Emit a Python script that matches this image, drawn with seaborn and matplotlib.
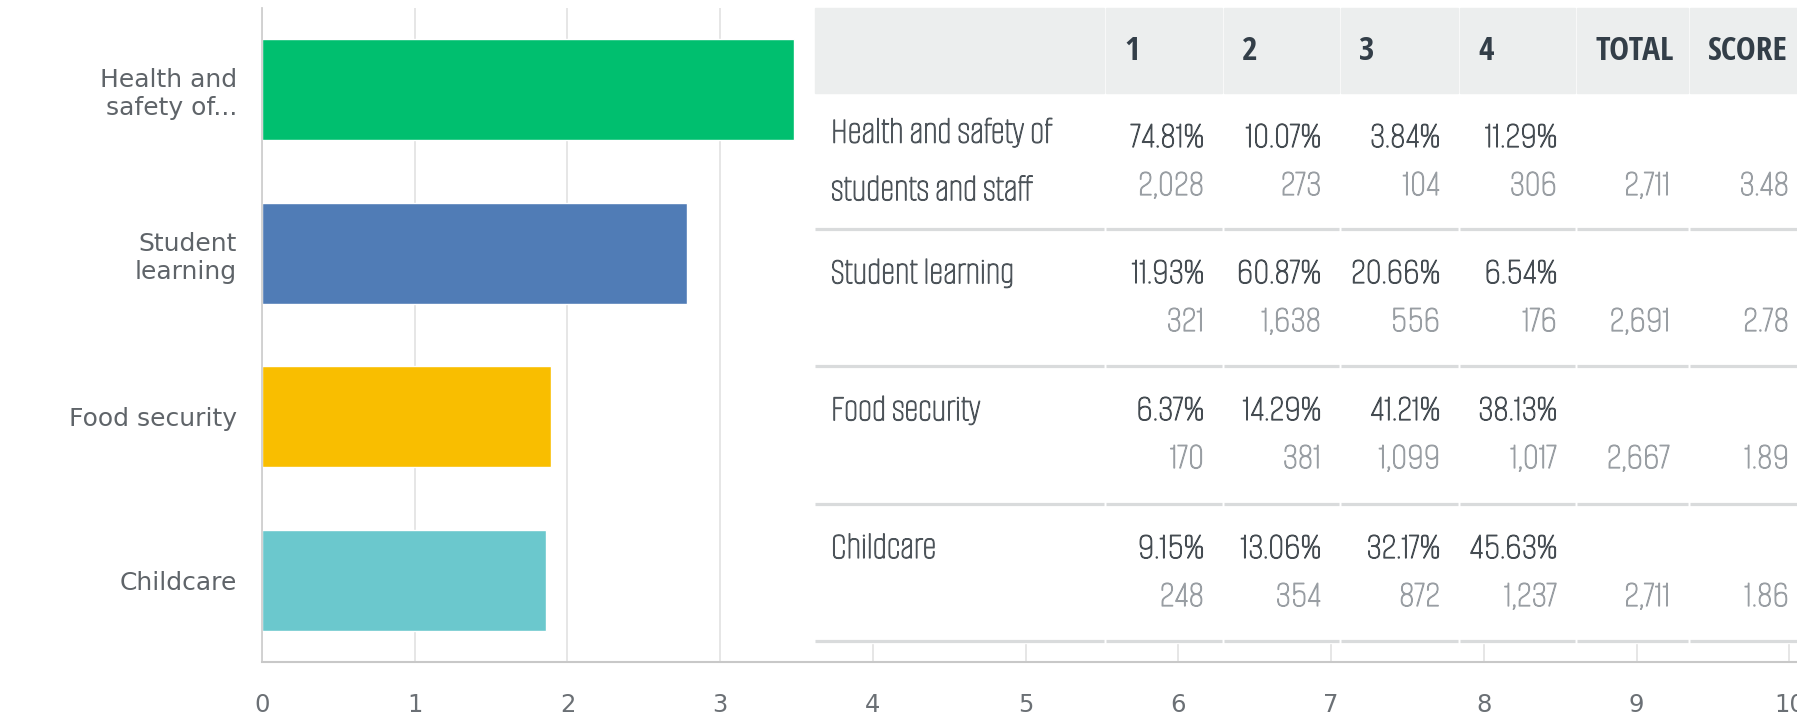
import matplotlib
matplotlib.use("Agg")
import matplotlib.pyplot as plt
import matplotlib.patheffects as pe
from matplotlib import font_manager
from matplotlib.font_manager import FontProperties
from matplotlib.textpath import TextPath
from matplotlib.patches import Rectangle
import seaborn as sns
import pandas as pd

# values
axis_labels = ["Health and\nsafety of...", "Student\nlearning", "Food security", "Childcare"]
table_labels = ["Health and safety of\nstudents and staff", "Student learning", "Food security", "Childcare"]
scores = [3.48, 2.78, 1.89, 1.86]
totals = [2711, 2691, 2667, 2711]
header_cols = ["1", "2", "3", "4", "TOTAL", "SCORE"]
pct_1 = [74.81, 11.93, 6.37, 9.15]
pct_2 = [10.07, 60.87, 14.29, 13.06]
pct_3 = [3.84, 20.66, 41.21, 32.17]
pct_4 = [11.29, 6.54, 38.13, 45.63]
cnt_1 = [2028, 321, 170, 248]
cnt_2 = [273, 1638, 381, 354]
cnt_3 = [104, 556, 1099, 872]
cnt_4 = [306, 176, 1017, 1237]
x_ticks = list(range(0, 11))
bar_colors = ["#00bf6f", "#507cb6", "#f9be00", "#6bc8cd"]

PX_PER_PT = 100 / 72


def _weight(f):
    w = f.weight
    if isinstance(w, str):
        return font_manager.weight_dict.get(w.lower(), 400)
    return int(w)


def _extent(fname, text):
    ext = TextPath((0, 0), text, prop=FontProperties(fname=fname, size=100)).get_extents()
    return ext.width, ext.height


def pick_table_font(sample, target_w, target_cap, bold):
    # the reference table uses a narrow face: pick the installed sans whose
    # width / cap-height ratio is closest, then size it to the sample width
    want = target_w / target_cap
    best, best_diff = None, None
    for f in font_manager.fontManager.ttflist:
        name = f.name.lower()
        if f.style != "normal" or "mono" in name or "cjk" in name:
            continue
        if not any(k in name for k in ["sans", "roboto", "lato", "inter"]):
            continue
        if "serif" in name.replace("sans", ""):
            continue
        w = _weight(f)
        if bold and w < 600:
            continue
        if not bold and not (350 <= w <= 500):
            continue
        try:
            tw, _ = _extent(f.fname, sample)
            _, cap = _extent(f.fname, "H")
        except Exception:
            continue
        if cap <= 0:
            continue
        diff = abs(tw / cap - want)
        if best_diff is None or diff < best_diff:
            best, best_diff = (f.fname, tw), diff
    if best is None:
        return None, 17
    fname, tw = best
    size = target_w / (tw / 100 * PX_PER_PT)
    return fname, size


def main():
    sns.set_style("white")
    plt.rcParams["font.family"] = ["DejaVu Sans"]

    reg_file, body_size = pick_table_font("Health and safety of", 218, 23, False)
    bold_file, head_size = pick_table_font("TOTAL", 77, 27, True)

    def tfont(size, bold=False):
        fname = bold_file if bold else reg_file
        if fname:
            fp = FontProperties(fname=fname)
        else:
            fp = FontProperties(family="Liberation Sans", weight="bold" if bold else "normal")
        fp.set_size(size)
        return fp

    def body_text(x, y, s, color, ha, **kw):
        # a thin outline in the text colour gives the narrow face a bit more weight
        return tx.text(x, y, s, fontproperties=tfont(body_size), color=color, ha=ha,
                       va="center", zorder=3,
                       path_effects=[pe.withStroke(linewidth=0.9, foreground=color)], **kw)

    W, H = 1797, 719
    fig = plt.figure(figsize=(W / 100, H / 100), dpi=100)
    ax = fig.add_axes([262 / W, 1 - 662 / H, (W - 262) / W, (662 - 8) / H])

    df = pd.DataFrame({"label": axis_labels, "score": scores})
    sns.barplot(data=df, x="score", y="label", hue="label", palette=bar_colors,
                width=0.62, saturation=1, legend=False, orient="h", ax=ax)

    ax.set_xlim(0, 10.05)
    ax.set_xticks(x_ticks)
    ax.set_xlabel("")
    ax.set_ylabel("")
    ax.set_axisbelow(True)
    ax.xaxis.grid(True, color="#e4e4e4", lw=1.3)
    ax.yaxis.grid(False)
    for s in ["top", "right"]:
        ax.spines[s].set_visible(False)
    ax.spines["left"].set_color("#cfcfcf")
    ax.spines["left"].set_linewidth(1.3)
    ax.spines["bottom"].set_color("#c8c8c8")
    ax.spines["bottom"].set_linewidth(1.5)
    ax.tick_params(axis="y", length=0, pad=18, labelsize=18, labelcolor="#5f6469")
    ax.tick_params(axis="x", length=0, pad=22, labelsize=17.5, labelcolor="#6b7075")
    for lab in ax.get_yticklabels():
        lab.set_linespacing(1.2)

    # table drawn on top, in pixel coordinates of the figure
    tx = fig.add_axes([0, 0, 1, 1])
    tx.set_xlim(0, W)
    tx.set_ylim(H, 0)
    tx.axis("off")

    col_edges = [814, 1105, 1223, 1340, 1459, 1576, 1689, 1815]
    row_edges = [8, 93, 229, 366, 504, 641]

    tx.add_patch(Rectangle((814, 8), 1100, 635, color="white", zorder=0))
    for i in range(len(col_edges) - 1):
        left, right = col_edges[i], col_edges[i + 1]
        tx.add_patch(Rectangle((left + 1, row_edges[0]), right - left - 2,
                               row_edges[1] - row_edges[0], color="#eceeee", zorder=1))
        for y in row_edges[2:]:
            tx.plot([left + 1, right - 1], [y, y], color="#d9dbdc", lw=2.3,
                    solid_capstyle="butt", zorder=2)

    for j, name in enumerate(header_cols):
        tx.text(col_edges[j + 1] + 19, 51, name, fontproperties=tfont(head_size, True),
                color="#333e48", ha="left", va="center", zorder=3)

    pcts = [pct_1, pct_2, pct_3, pct_4]
    cnts = [cnt_1, cnt_2, cnt_3, cnt_4]
    for r in range(len(table_labels)):
        top = row_edges[r + 1]
        y_pct = top + 44
        y_cnt = top + 92
        label = table_labels[r]
        if "\n" in label:
            body_text(831, (y_pct + y_cnt) / 2, label, "#4d545a", "left", linespacing=2.1)
        else:
            body_text(831, y_pct, label, "#4d545a", "left")
        for c in range(4):
            xr = col_edges[c + 2] - 19
            body_text(xr, y_pct, f"{pcts[c][r]:.2f}%", "#454c52", "right")
            body_text(xr, y_cnt, f"{cnts[c][r]:,}", "#999ea3", "right")
        body_text(col_edges[6] - 19, y_cnt, f"{totals[r]:,}", "#999ea3", "right")
        body_text(col_edges[7] - 26, y_cnt, f"{scores[r]:.2f}", "#999ea3", "right")

    fig.savefig("out.png", dpi=100)


if __name__ == "__main__":
    main()
